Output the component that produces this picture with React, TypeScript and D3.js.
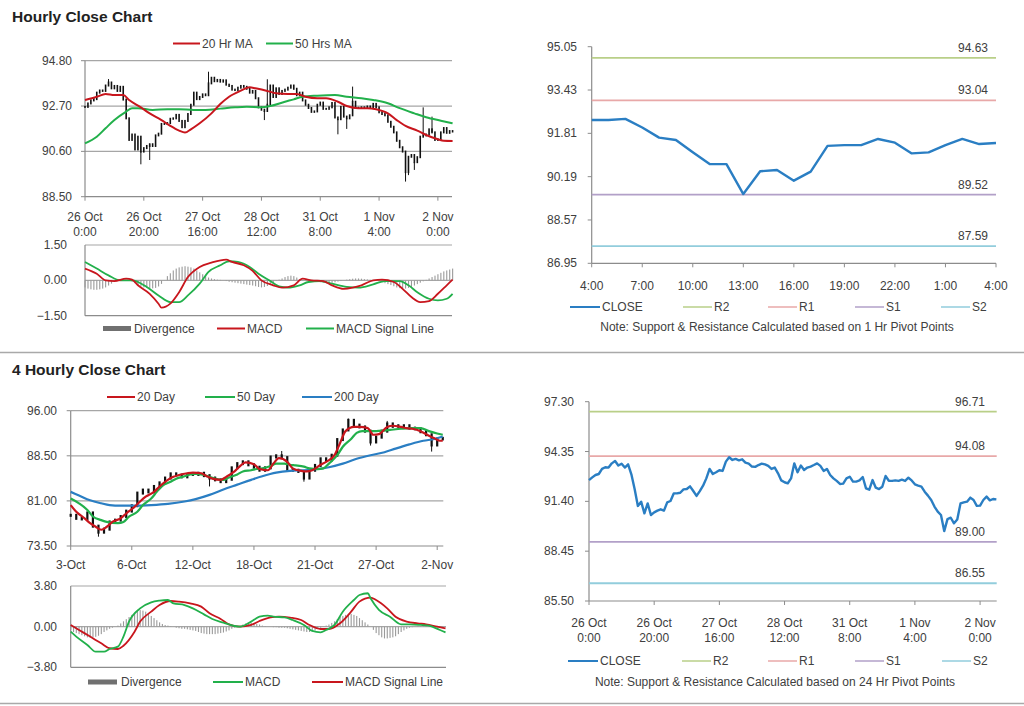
import React from 'react';
import * as d3 from 'd3';

const FONT = '"Liberation Sans", Arial, sans-serif';
const TXT = '#404040';
const GRID = '#a6a6a6';
const AXIS = '#8c8c8c';
const RED = '#c8161d';
const GREEN = '#22b04b';
const BLUE = '#2a7ec3';

// ---------- Hourly close chart (26 Oct 0:00 .. 2 Nov) ----------
const hourlyTickLabels = [
  ['26 Oct', '0:00'], ['26 Oct', '20:00'], ['27 Oct', '16:00'], ['28 Oct', '12:00'],
  ['31 Oct', '8:00'], ['1 Nov', '4:00'], ['2 Nov', '0:00'],
];
const hourlyTickStep = 20;
const hourlyClose = [
  92.66, 92.82, 92.96, 93.02, 93.32, 93.42, 93.40, 93.65, 93.79, 93.52,
  93.63, 93.40, 93.59, 93.00, 92.13, 91.13, 91.38, 90.69, 91.28, 90.59,
  90.75, 90.85, 90.93, 90.85, 91.34, 91.42, 91.87, 91.87, 91.91, 92.11,
  92.13, 92.29, 92.01, 91.72, 92.01, 92.33, 92.76, 93.32, 93.02, 93.12,
  93.24, 93.20, 93.75, 94.01, 93.85, 93.91, 93.83, 93.89, 93.69, 93.63,
  93.46, 93.44, 93.55, 93.63, 93.59, 93.50, 93.32, 93.40, 93.06, 92.64,
  92.53, 92.47, 92.76, 93.65, 93.12, 93.52, 93.26, 93.40, 93.46, 93.55,
  93.65, 93.50, 93.20, 93.32, 92.96, 92.76, 92.61, 92.43, 92.45, 92.76,
  92.86, 92.57, 92.57, 92.64, 92.84, 92.17, 92.09, 92.66, 92.21, 92.13,
  92.27, 92.90, 92.62, 92.61, 92.64, 92.61, 92.68, 92.61, 92.80, 92.64,
  92.41, 92.33, 92.27, 91.97, 91.74, 91.48, 91.09, 90.79, 90.59, 89.64,
  90.35, 90.43, 90.10, 90.33, 91.28, 91.34, 91.38, 91.62, 91.48, 91.13,
  91.15, 91.48, 91.68, 91.46, 91.54, 91.52,
];
const hourlyWicks: [number, number][] = [
  [8, 93.95], [19, 90.0], [22, 90.2], [42, 94.29], [61, 92.05], [62, 93.94],
  [86, 91.39], [89, 91.64], [91, 93.6], [109, 89.2], [110, 89.5], [112, 89.74],
  [115, 92.64], [118, 92.21],
];
const ma20Hr: [number, number][] = [
  [0, 92.98], [4, 93.13], [7, 93.26], [10, 93.21], [13, 93.21], [15, 92.98], [19, 92.64],
  [22, 92.36], [26, 92.05], [29, 91.78], [32, 91.56], [34, 91.47], [36, 91.62], [39, 91.9],
  [43, 92.36], [46, 92.79], [49, 93.13], [53, 93.41], [56, 93.57], [58, 93.52], [62, 93.4],
  [65, 93.29], [69, 93.26], [72, 93.26], [75, 93.13], [79, 93.06], [82, 93.06], [86, 92.9],
  [89, 92.7], [93, 92.6], [96, 92.6], [99, 92.55], [103, 92.36], [106, 92.05], [109, 91.78],
  [113, 91.56], [116, 91.36], [120, 91.16], [122, 91.09], [125, 91.08],
];
const ma50Hr: [number, number][] = [
  [0, 90.97], [4, 91.28], [7, 91.67], [10, 92.05], [14, 92.44], [16, 92.6], [18, 92.6],
  [23, 92.52], [28, 92.55], [32, 92.55], [37, 92.52], [41, 92.52], [46, 92.58], [51, 92.64],
  [55, 92.67], [60, 92.64], [63, 92.7], [68, 92.9], [71, 93.01], [74, 93.13], [79, 93.18],
  [85, 93.21], [89, 93.13], [94, 93.06], [98, 92.98], [103, 92.83], [107, 92.6], [112, 92.36],
  [116, 92.18], [121, 92.02], [125, 91.9],
];
const macdHr: [number, number][] = [
  [0, 0.5], [4, 0.28], [7, 0.0], [10, -0.03], [14, 0.07], [16, 0.03], [18, -0.21], [22, -0.57],
  [25, -0.99], [26, -1.16], [29, -0.99], [32, -0.5], [35, 0.14], [39, 0.57], [43, 0.75],
  [48, 0.88], [50, 0.78], [54, 0.64], [57, 0.4], [60, 0.0], [64, -0.21], [67, -0.31],
  [71, -0.21], [74, 0.07], [77, 0.0], [81, -0.03], [84, -0.21], [88, -0.36], [91, -0.31],
  [94, -0.21], [98, 0.0], [101, 0.03], [105, -0.07], [108, -0.36], [111, -0.71], [114, -0.92],
  [117, -0.88], [120, -0.57], [123, -0.21], [125, 0.03],
];
const signalHr: [number, number][] = [
  [0, 0.78], [4, 0.5], [8, 0.21], [12, 0.0], [16, 0.0], [21, -0.28], [25, -0.64], [29, -0.92],
  [32, -0.92], [35, -0.64], [39, -0.14], [42, 0.36], [46, 0.64], [49, 0.81], [52, 0.78],
  [56, 0.57], [59, 0.28], [63, -0.03], [66, -0.26], [69, -0.31], [73, -0.21], [76, -0.07],
  [80, -0.03], [84, -0.14], [89, -0.28], [93, -0.31], [98, -0.17], [102, -0.03], [107, -0.03],
  [110, -0.21], [113, -0.5], [117, -0.78], [120, -0.85], [123, -0.78], [125, -0.57],
];
const divergenceHr = [
  -0.30, -0.35, -0.38, -0.40, -0.40, -0.38, -0.35, -0.30,
  -0.22, -0.14, -0.06, 0.00, 0.02, 0.03, 0.02, 0.00,
  -0.05, -0.12, -0.20, -0.26, -0.30, -0.32, -0.34, -0.34, -0.32, -0.26,
  -0.15, 0.00, 0.18, 0.30, 0.42, 0.50, 0.55, 0.58, 0.60, 0.58,
  0.55, 0.50, 0.42, 0.34, 0.26, 0.18, 0.12, 0.08, 0.05, 0.03,
  0.02, 0.00, -0.03, -0.06, -0.08, -0.10, -0.12, -0.14, -0.16, -0.18,
  -0.20, -0.22, -0.25, -0.28, -0.30, -0.28, -0.24, -0.18, -0.10, -0.03,
  0.03, 0.08, 0.14, 0.18, 0.20, 0.18, 0.12, 0.06, 0.02, -0.02,
  -0.04, -0.05, -0.06, -0.07, -0.08, -0.10, -0.12, -0.12, -0.10, -0.08,
  -0.05, -0.03, 0.00, 0.03, 0.05, 0.07, 0.08, 0.08, 0.07, 0.05,
  0.04, 0.02, 0.00, -0.02, -0.05, -0.08, -0.12, -0.16, -0.20, -0.25,
  -0.30, -0.33, -0.35, -0.35, -0.32, -0.28, -0.22, -0.16, -0.10, -0.04,
  0.02, 0.08, 0.14, 0.20, 0.26, 0.32, 0.38, 0.42, 0.46, 0.50,
];
const hourlyYTicks = [94.8, 92.7, 90.6, 88.5];
const macdHrYTicks = [1.5, 0, -1.5];

// ---------- 1 Hr pivot chart ----------
const pivot1hClose = [
  92.31, 92.31, 92.35, 92.03, 91.65, 91.56, 91.10, 90.66, 90.66, 89.54, 90.39, 90.44, 90.04,
  90.38, 91.34, 91.37, 91.37, 91.60, 91.46, 91.06, 91.10, 91.37, 91.60, 91.41, 91.45,
];
const pivot1hLabels = ['4:00', '7:00', '10:00', '13:00', '16:00', '19:00', '22:00', '1:00', '4:00'];
const pivot1hYTicks = [95.05, 93.43, 91.81, 90.19, 88.57, 86.95];
const levelNames = ['R2', 'R1', 'S1', 'S2'];
const levelColors = ['#b9cf88', '#e8a8a8', '#b2a0c8', '#92cddc'];
const levels1h = [94.63, 93.04, 89.52, 87.59];
const levels24h = [96.71, 94.08, 89.0, 86.55];
const pivot24hYTicks = [97.3, 94.35, 91.4, 88.45, 85.5];

// ---------- 4 Hourly chart ----------
const fourHrTickLabels = ['3-Oct', '6-Oct', '12-Oct', '18-Oct', '21-Oct', '27-Oct', '2-Nov'];
const fourHrTickStep = 22;
const fourHrSampleStep = 2;
const fourHrClose = [
  78.6, 78.1, 78.0, 79.0, 76.8, 75.8, 76.3, 77.5, 77.8, 78.4,
  79.3, 80.2, 82.3, 82.8, 82.5, 83.4, 84.0, 84.8, 85.5, 85.3,
  85.0, 85.4, 85.4, 85.6, 85.2, 84.8, 84.5, 84.2, 84.6, 86.5,
  87.2, 87.5, 87.0, 86.6, 86.1, 86.5, 88.3, 88.5, 88.2, 86.2,
  86.1, 85.9, 84.8, 86.1, 86.9, 88.0, 87.8, 88.6, 91.2, 92.8,
  94.4, 93.6, 93.3, 92.6, 90.8, 91.6, 92.6, 93.8, 93.4, 93.5,
  93.5, 93.1, 93.0, 92.5, 92.0, 90.3, 91.3, 91.4,
];
const fourHrWicks: [number, number][] = [
  [10, 75.05], [50, 83.4], [76, 89.3], [84, 84.2], [100, 94.7], [108, 90.2], [114, 94.3], [130, 89.2],
];
const ma20Day: [number, number][] = [
  [0, 80.3], [2, 79.2], [5, 78.1], [7, 77.3], [9, 76.7], [11, 76.2], [13, 76.7], [15, 77.5],
  [18, 78.1], [20, 78.9], [23, 80.0], [25, 80.9], [27, 81.7], [30, 82.5], [32, 83.4], [35, 84.5],
  [37, 85.0], [39, 85.3], [42, 85.6], [44, 85.7], [47, 85.6], [49, 85.1], [51, 84.7], [54, 84.5],
  [56, 85.0], [59, 85.9], [61, 86.8], [63, 87.4], [66, 87.1], [68, 86.3], [71, 86.1], [73, 87.2],
  [75, 88.1], [78, 87.5], [80, 86.4], [83, 86.0], [85, 85.9], [87, 86.1], [90, 87.0], [92, 87.5],
  [95, 88.6], [97, 90.6], [99, 92.6], [102, 93.3], [104, 93.3], [107, 93.1], [109, 92.0],
  [111, 92.1], [114, 93.3], [116, 93.5], [119, 93.3], [121, 93.1], [123, 93.0], [126, 92.6],
  [128, 92.1], [131, 91.4], [133, 91.0], [134, 91.0],
];
const ma50Day: [number, number][] = [
  [0, 81.4], [3, 80.6], [6, 79.5], [8, 78.4], [11, 77.8], [13, 77.5], [17, 77.3], [19, 77.5],
  [21, 78.4], [24, 79.2], [26, 80.3], [29, 81.4], [31, 82.5], [33, 83.5], [36, 84.2], [38, 84.7],
  [41, 85.1], [43, 85.4], [45, 85.5], [48, 85.3], [50, 85.0], [53, 84.6], [55, 84.5], [57, 84.9],
  [60, 85.4], [62, 85.9], [65, 86.1], [67, 86.3], [69, 86.4], [72, 86.8], [74, 87.2], [77, 87.2],
  [79, 87.0], [81, 86.9], [84, 86.7], [86, 86.4], [89, 86.3], [91, 86.4], [93, 87.2], [96, 88.6],
  [98, 90.0], [101, 91.3], [103, 92.3], [105, 92.6], [108, 92.6], [110, 92.6], [113, 92.7],
  [115, 92.8], [119, 93.0], [122, 93.1], [126, 93.1], [129, 92.6], [132, 92.2], [134, 92.0],
];
const ma200Day: [number, number][] = [
  [0, 82.5], [3, 81.9], [7, 81.1], [11, 80.6], [14, 80.3], [18, 80.2], [23, 80.2], [29, 80.3],
  [35, 80.5], [41, 80.9], [45, 81.3], [50, 82.0], [55, 82.9], [60, 83.7], [65, 84.5], [69, 85.1],
  [74, 85.7], [79, 86.0], [84, 86.1], [89, 86.3], [93, 86.6], [98, 87.2], [103, 88.0], [108, 88.6],
  [113, 89.1], [117, 89.7], [122, 90.4], [127, 91.0], [131, 91.3], [134, 91.7],
];
const macd4h: [number, number][] = [
  [0, -0.47], [2, -0.93], [6, -1.71], [9, -2.34], [12, -2.34], [14, -2.09], [17, -1.87],
  [19, -0.93], [21, 0.47], [25, 1.71], [29, 2.27], [32, 2.43], [35, 2.49], [37, 2.18], [41, 2.02],
  [44, 1.71], [48, 1.15], [51, 0.72], [55, 0.37], [59, 0.06], [61, 0], [65, 0.47], [68, 0.93],
  [71, 1.03], [73, 0.93], [77, 0.87], [80, 0.62], [84, 0.16], [87, -0.4], [90, -0.53], [92, -0.31],
  [95, 0.16], [98, 1.4], [102, 2.49], [104, 2.96], [107, 3.12], [108, 2.65], [111, 1.56],
  [115, 0.93], [119, 0.22], [122, 0.22], [126, 0.16], [129, 0.09], [133, -0.31], [135, -0.53],
];
const signal4h: [number, number][] = [
  [0, 0.16], [3, -0.31], [7, -0.93], [11, -1.56], [14, -2.02], [17, -2.09], [19, -1.78],
  [23, -0.47], [25, 0.47], [29, 1.4], [32, 2.02], [36, 2.4], [39, 2.34], [43, 2.18], [47, 1.87],
  [50, 1.25], [54, 0.72], [57, 0.22], [61, 0], [65, 0.16], [68, 0.53], [72, 0.87], [75, 0.93],
  [79, 0.84], [83, 0.62], [86, 0.16], [90, -0.22], [93, -0.22], [97, 0.31], [101, 1.4],
  [104, 2.34], [108, 2.71], [110, 2.49], [114, 1.71], [117, 0.93], [121, 0.47], [125, 0.31],
  [128, 0.22], [132, 0], [135, -0.16],
];
const divergence4h = [
  -0.3, -0.5, -0.6, -0.7,
  -0.8, -0.9, -1.0, -1.05, -1.0, -0.95, -0.85,
  -0.7, -0.5, -0.35, -0.2,
  -0.1, 0.0, 0.1,
  0.3, 0.5, 0.7, 0.9,
  1.1, 1.3, 1.45, 1.55, 1.5, 1.4,
  1.2, 1.0, 0.8, 0.6, 0.4, 0.25,
  0.15, 0.1, 0.05, 0.0,
  -0.1, -0.15, -0.2, -0.2, -0.25, -0.3, -0.35, -0.4,
  -0.5, -0.6, -0.65, -0.7, -0.7, -0.7, -0.7, -0.65, -0.6, -0.55, -0.45, -0.35, -0.2,
  -0.1, 0.0, 0.1, 0.2,
  0.3, 0.35, 0.35, 0.3, 0.25, 0.2,
  0.1, 0.05, 0.0, 0.0, -0.05, -0.05,
  -0.1, -0.1, -0.1, -0.15, -0.2, -0.25, -0.3, -0.35,
  -0.4, -0.45, -0.5, -0.5, -0.45, -0.35, -0.2, -0.1,
  0.0, 0.1, 0.2, 0.35,
  0.5, 0.7, 0.9, 1.0, 1.1, 1.2, 1.2,
  1.1, 1.0, 0.8, 0.6, 0.4, 0.2,
  0.0, -0.3, -0.6,
  -0.8, -1.0, -1.1, -1.1, -1.05, -1.0, -0.9,
  -0.7, -0.5, -0.35, -0.2,
  -0.1, -0.05, 0, 0.05, 0.05, 0.05, 0.05, 0.05, 0.0, -0.05, -0.1, -0.1, -0.15,
];
const fourHrYTicks = [96, 88.5, 81, 73.5];
const macd4hYTicks = [3.8, 0, -3.8];

// ---------- helpers ----------
type Scale = d3.ScaleLinear<number, number>;
const mkLine = (x: Scale, y: Scale, smooth = true) =>
  d3.line<[number, number]>().x((d) => x(d[0])).y((d) => y(d[1])).curve(smooth ? d3.curveMonotoneX : d3.curveLinear);

const T = (props: any) => (
  <text fontFamily={FONT} fontSize={12} fill={TXT} {...props} />
);

function YLabels({ y, ticks, xr, fmt }: { y: Scale; ticks: number[]; xr: number; fmt: (v: number) => string }) {
  return (
    <g>
      {ticks.map((t, i) => (
        <T key={i} x={xr} y={y(t) + 4} textAnchor="end">{fmt(t)}</T>
      ))}
    </g>
  );
}

function LegendLine({ x, y, color, label, w = 29, sw = 2 }: any) {
  return (
    <g>
      <line x1={x} x2={x + w} y1={y} y2={y} stroke={color} strokeWidth={sw} />
      <T x={x + w + 2} y={y + 4}>{label}</T>
    </g>
  );
}

export default function App() {
  const f2 = (v: number) => d3.format('.2f')(v);

  // Hourly candle chart
  const hx = d3.scaleLinear().domain([0, 124.8]).range([85, 452]);
  const hy = d3.scaleLinear().domain([88.5, 94.8]).range([196.7, 60.7]);
  // Hourly MACD
  const my = d3.scaleLinear().domain([-1.5, 1.5]).range([315.7, 245]);
  // 1h pivot
  const px = d3.scaleLinear().domain([0, 24]).range([591.7, 996]);
  const py = d3.scaleLinear().domain([86.95, 95.05]).range([263.3, 46.7]);
  // 4 hourly
  const fx = d3.scaleLinear().domain([0, 134.2]).range([70.7, 443.3]);
  const fy = d3.scaleLinear().domain([73.5, 96]).range([546, 410.7]);
  const fmy = d3.scaleLinear().domain([-3.8, 3.8]).range([667.3, 586]);
  // 24h pivot
  const qx = d3.scaleLinear().domain([0, 125.1]).range([589, 996.7]);
  const qy = d3.scaleLinear().domain([85.5, 97.3]).range([601, 401.7]);

  const closeLine1h = d3.line<number>().x((_, i) => px(i)).y((d) => py(d));
  const closeLine24h = d3.line<number>().x((_, i) => qx(i)).y((d) => qy(d));

  return (
    <svg width={1024} height={706} style={{ position: 'absolute', left: 0, top: 0, background: '#fff' }}>
      <rect x={0} y={0} width={1024} height={706} fill="#fff" />

      {/* ================= HOURLY CLOSE CHART ================= */}
      <text x={12} y={22} fontFamily={FONT} fontSize={15.5} fontWeight="bold" fill="#222">Hourly Close Chart</text>
      <LegendLine x={173} y={43.5} color={RED} label="20 Hr MA" w={27} />
      <LegendLine x={266} y={43.5} color={GREEN} label="50 Hrs MA" w={27} />

      {hourlyYTicks.slice(0, 3).map((t, i) => (
        <line key={i} x1={hx(0)} x2={452} y1={hy(t)} y2={hy(t)} stroke={GRID} strokeWidth={1.2} />
      ))}
      <line x1={hx(0)} x2={hx(0)} y1={hy(94.8)} y2={hy(88.5)} stroke={AXIS} strokeWidth={1.2} />
      <line x1={hx(0)} x2={452} y1={hy(88.5)} y2={hy(88.5)} stroke={AXIS} strokeWidth={1.2} />
      {hourlyYTicks.map((t, i) => (
        <line key={'yt' + i} x1={hx(0) - 4} x2={hx(0)} y1={hy(t)} y2={hy(t)} stroke={AXIS} />
      ))}
      <YLabels y={hy} ticks={hourlyYTicks} xr={72} fmt={f2} />
      {hourlyTickLabels.map((lab, k) => {
        const xx = hx(k * hourlyTickStep);
        return (
          <g key={k}>
            <line x1={xx} x2={xx} y1={hy(88.5)} y2={hy(88.5) + 4} stroke={AXIS} />
            <T x={xx} y={221} textAnchor="middle">{lab[0]}</T>
            <T x={xx} y={235.5} textAnchor="middle">{lab[1]}</T>
          </g>
        );
      })}
      {/* candles */}
      {hourlyWicks.map(([i, v], k) => (
        <line key={'w' + k} x1={hx(i)} x2={hx(i)} y1={hy(v)} y2={hy(hourlyClose[i])} stroke="#111" strokeWidth={1} />
      ))}
      {hourlyClose.map((c, i) => {
        const o = i === 0 ? c : hourlyClose[i - 1];
        const y1 = hy(Math.max(o, c));
        const y2 = hy(Math.min(o, c));
        return <rect key={'c' + i} x={hx(i) - 0.8} y={y1 - 1} width={1.6} height={Math.max(2, y2 - y1 + 2)} fill="#111" />;
      })}
      <path d={mkLine(hx, hy)(ma50Hr) || ''} fill="none" stroke={GREEN} strokeWidth={2} />
      <path d={mkLine(hx, hy)(ma20Hr) || ''} fill="none" stroke={RED} strokeWidth={2} />

      {/* hourly MACD */}
      <line x1={hx(0)} x2={452} y1={my(1.5)} y2={my(1.5)} stroke={GRID} strokeWidth={1.2} />
      <line x1={hx(0)} x2={452} y1={my(0)} y2={my(0)} stroke={GRID} strokeWidth={1.2} />
      <line x1={hx(0)} x2={452} y1={my(-1.5)} y2={my(-1.5)} stroke={AXIS} strokeWidth={1.2} />
      <line x1={hx(0)} x2={hx(0)} y1={my(1.5)} y2={my(-1.5)} stroke={AXIS} strokeWidth={1.2} />
      <YLabels y={my} ticks={macdHrYTicks} xr={67} fmt={f2} />
      {divergenceHr.map((v, i) => (
        <rect key={'d' + i} x={hx(i) - 0.5} y={Math.min(my(0), my(v))} width={1.1} height={Math.abs(my(v) - my(0))} fill="#9a9a9a" />
      ))}
      <path d={mkLine(hx, my)(signalHr) || ''} fill="none" stroke={GREEN} strokeWidth={1.8} />
      <path d={mkLine(hx, my)(macdHr) || ''} fill="none" stroke={RED} strokeWidth={1.8} />
      <rect x={103} y={326} width={28} height={5} fill="#707070" />
      <T x={134} y={332.5}>Divergence</T>
      <LegendLine x={217} y={328.5} color={RED} label="MACD" w={28} />
      <LegendLine x={306} y={328.5} color={GREEN} label="MACD Signal Line" w={28} />

      {/* ================= 1 HR PIVOT CHART ================= */}
      <line x1={px(0)} x2={px(0)} y1={py(95.05)} y2={py(86.95)} stroke={AXIS} strokeWidth={1.2} />
      <line x1={px(0)} x2={996} y1={py(86.95)} y2={py(86.95)} stroke={AXIS} strokeWidth={1.2} />
      {pivot1hYTicks.map((t, i) => (
        <line key={'pt' + i} x1={px(0) - 4} x2={px(0)} y1={py(t)} y2={py(t)} stroke={AXIS} />
      ))}
      <YLabels y={py} ticks={pivot1hYTicks} xr={577} fmt={f2} />
      {pivot1hLabels.map((lab, k) => (
        <g key={'pl' + k}>
          <line x1={px(k * 3)} x2={px(k * 3)} y1={py(86.95)} y2={py(86.95) + 4} stroke={AXIS} />
          <T x={px(k * 3)} y={290} textAnchor="middle">{lab}</T>
        </g>
      ))}
      {levels1h.map((v, i) => (
        <g key={'lv' + i}>
          <line x1={px(0)} x2={996} y1={py(v)} y2={py(v)} stroke={levelColors[i]} strokeWidth={1.8} />
          <T x={988} y={py(v) - 6} textAnchor="end">{f2(v)}</T>
        </g>
      ))}
      <path d={closeLine1h(pivot1hClose) || ''} fill="none" stroke={BLUE} strokeWidth={2.4} strokeLinejoin="round" />
      <LegendLine x={570} y={307} color={BLUE} label="CLOSE" w={30} sw={2} />
      {levelNames.map((n, i) => (
        <LegendLine key={'ln' + i} x={[683, 768, 855, 941][i]} y={307} color={levelColors[i]} label={n} w={29} sw={1.5} />
      ))}
      <T x={777} y={331} textAnchor="middle">Note: Support &amp; Resistance Calculated based on 1 Hr Pivot Points</T>

      {/* separators */}
      <line x1={0} x2={1024} y1={352.5} y2={352.5} stroke="#a9a9a9" strokeWidth={1.5} />
      <line x1={0} x2={1024} y1={703.5} y2={703.5} stroke="#a9a9a9" strokeWidth={1.5} />

      {/* ================= 4 HOURLY CLOSE CHART ================= */}
      <text x={12} y={375} fontFamily={FONT} fontSize={15.5} fontWeight="bold" fill="#222">4 Hourly Close Chart</text>
      <LegendLine x={107} y={397} color={RED} label="20 Day" w={28} />
      <LegendLine x={205} y={397} color={GREEN} label="50 Day" w={30} />
      <LegendLine x={302} y={397} color={BLUE} label="200 Day" w={30} />

      {fourHrYTicks.slice(0, 3).map((t, i) => (
        <line key={'fg' + i} x1={fx(0)} x2={443.3} y1={fy(t)} y2={fy(t)} stroke={GRID} strokeWidth={1.2} />
      ))}
      <line x1={fx(0)} x2={fx(0)} y1={fy(96)} y2={fy(73.5)} stroke={AXIS} strokeWidth={1.2} />
      <line x1={fx(0)} x2={443.3} y1={fy(73.5)} y2={fy(73.5)} stroke={AXIS} strokeWidth={1.2} />
      {fourHrYTicks.map((t, i) => (
        <line key={'fyt' + i} x1={fx(0) - 4} x2={fx(0)} y1={fy(t)} y2={fy(t)} stroke={AXIS} />
      ))}
      <YLabels y={fy} ticks={fourHrYTicks} xr={57} fmt={f2} />
      {fourHrTickLabels.map((lab, k) => {
        const xx = fx(k * fourHrTickStep);
        return (
          <g key={'fx' + k}>
            <line x1={xx} x2={xx} y1={fy(73.5)} y2={fy(73.5) + 4} stroke={AXIS} />
            <T x={xx} y={569} textAnchor="middle">{lab}</T>
          </g>
        );
      })}
      {fourHrWicks.map(([i, v], k) => (
        <line key={'fw' + k} x1={fx(i)} x2={fx(i)} y1={fy(v)} y2={fy(fourHrClose[i / fourHrSampleStep])} stroke="#111" strokeWidth={1} />
      ))}
      {fourHrClose.map((c, k) => {
        const o = k === 0 ? c : fourHrClose[k - 1];
        const y1 = fy(Math.max(o, c));
        const y2 = fy(Math.min(o, c));
        const xx = fx(k * fourHrSampleStep);
        return <rect key={'fc' + k} x={xx - 1.1} y={y1 - 1.5} width={2.2} height={Math.max(3, y2 - y1 + 3)} fill="#111" />;
      })}
      <path d={mkLine(fx, fy)(ma200Day) || ''} fill="none" stroke={BLUE} strokeWidth={2.2} />
      <path d={mkLine(fx, fy)(ma50Day) || ''} fill="none" stroke={GREEN} strokeWidth={2.2} />
      <path d={mkLine(fx, fy)(ma20Day) || ''} fill="none" stroke={RED} strokeWidth={2.2} />

      {/* 4h MACD */}
      <line x1={fx(0)} x2={446} y1={fmy(3.8)} y2={fmy(3.8)} stroke={GRID} strokeWidth={1.2} />
      <line x1={fx(0)} x2={446} y1={fmy(0)} y2={fmy(0)} stroke={GRID} strokeWidth={1.2} />
      <line x1={fx(0)} x2={446} y1={fmy(-3.8)} y2={fmy(-3.8)} stroke={AXIS} strokeWidth={1.2} />
      <line x1={fx(0)} x2={fx(0)} y1={fmy(3.8)} y2={fmy(-3.8)} stroke={AXIS} strokeWidth={1.2} />
      <YLabels y={fmy} ticks={macd4hYTicks} xr={57} fmt={f2} />
      {divergence4h.map((v, i) => (
        <rect key={'fd' + i} x={fx(i) - 0.5} y={Math.min(fmy(0), fmy(v))} width={1.1} height={Math.abs(fmy(v) - fmy(0))} fill="#9a9a9a" />
      ))}
      <path d={mkLine(fx, fmy)(signal4h) || ''} fill="none" stroke={RED} strokeWidth={1.8} />
      <path d={mkLine(fx, fmy)(macd4h) || ''} fill="none" stroke={GREEN} strokeWidth={1.8} />
      <rect x={88} y={679.5} width={29} height={5} fill="#707070" />
      <T x={121} y={686}>Divergence</T>
      <LegendLine x={213} y={682} color={GREEN} label="MACD" w={30} />
      <LegendLine x={312} y={682} color={RED} label="MACD Signal Line" w={31} />

      {/* ================= 24 HR PIVOT CHART ================= */}
      <line x1={qx(0)} x2={qx(0)} y1={qy(97.3)} y2={qy(85.5)} stroke={AXIS} strokeWidth={1.2} />
      <line x1={qx(0)} x2={996.7} y1={qy(85.5)} y2={qy(85.5)} stroke={AXIS} strokeWidth={1.2} />
      {pivot24hYTicks.map((t, i) => (
        <line key={'qt' + i} x1={qx(0) - 4} x2={qx(0)} y1={qy(t)} y2={qy(t)} stroke={AXIS} />
      ))}
      <YLabels y={qy} ticks={pivot24hYTicks} xr={574} fmt={f2} />
      {hourlyTickLabels.map((lab, k) => {
        const xx = qx(k * hourlyTickStep);
        return (
          <g key={'qx' + k}>
            <line x1={xx} x2={xx} y1={qy(85.5)} y2={qy(85.5) + 4} stroke={AXIS} />
            <T x={xx} y={627} textAnchor="middle">{lab[0]}</T>
            <T x={xx} y={642} textAnchor="middle">{lab[1]}</T>
          </g>
        );
      })}
      {levels24h.map((v, i) => (
        <g key={'lq' + i}>
          <line x1={qx(0)} x2={996.7} y1={qy(v)} y2={qy(v)} stroke={levelColors[i]} strokeWidth={1.8} />
          <T x={985} y={qy(v) - 6} textAnchor="end">{f2(v)}</T>
        </g>
      ))}
      <path d={closeLine24h(hourlyClose) || ''} fill="none" stroke={BLUE} strokeWidth={2.4} strokeLinejoin="round" />
      <LegendLine x={568} y={661} color={BLUE} label="CLOSE" w={30} sw={2} />
      {levelNames.map((n, i) => (
        <LegendLine key={'lq2' + i} x={[682, 768, 855, 942][i]} y={661} color={levelColors[i]} label={n} w={29} sw={1.5} />
      ))}
      <T x={775} y={686} textAnchor="middle">Note:  Support &amp; Resistance Calculated based on 24 Hr Pivot Points</T>
    </svg>
  );
}
